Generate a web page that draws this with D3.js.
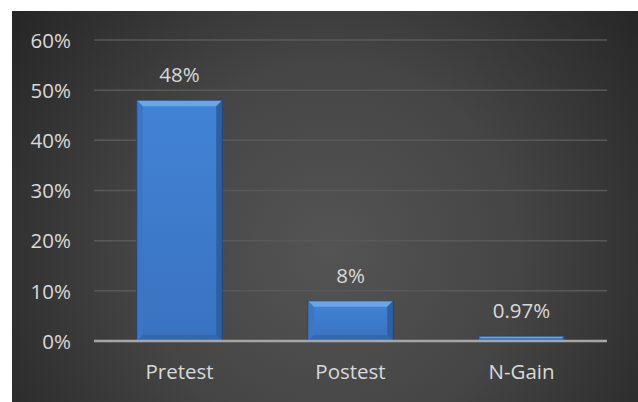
<!DOCTYPE html>
<html><head><meta charset="utf-8">
<script src="https://cdn.jsdelivr.net/npm/d3@7"></script>
<style>html,body{margin:0;padding:0;background:#fff;}svg{display:block;}</style>
</head><body>
<script>
const categories = ["Pretest", "Postest", "N-Gain"];
const values = [0.48, 0.08, 0.0097];
const valueLabels = ["48%", "8%", "0.97%"];
const yTicks = [0, 0.1, 0.2, 0.3, 0.4, 0.5, 0.6];

const W = 638, H = 402;
const svg = d3.select("body").append("svg").attr("width", W).attr("height", H);
const defs = svg.append("defs");

const bg = defs.append("radialGradient").attr("id", "bg")
  .attr("gradientUnits", "userSpaceOnUse").attr("cx", 330).attr("cy", 250).attr("r", 420);
bg.append("stop").attr("offset", "0").attr("stop-color", "#545454");
bg.append("stop").attr("offset", "0.45").attr("stop-color", "#454545");
bg.append("stop").attr("offset", "1").attr("stop-color", "#222222");

const barG = defs.append("linearGradient").attr("id", "barg").attr("x1", 0).attr("y1", 0).attr("x2", 0).attr("y2", 1);
barG.append("stop").attr("offset", "0").attr("stop-color", "#4283d6");
barG.append("stop").attr("offset", "1").attr("stop-color", "#3a72c0");

svg.append("rect").attr("x", 12).attr("y", 11).attr("width", W - 12).attr("height", H - 11).attr("fill", "url(#bg)");

const m = {left: 94, right: 607, top: 40, bottom: 341};
const y = d3.scaleLinear().domain([0, 0.6]).range([m.bottom, m.top]);
const x = d3.scaleBand().domain(categories).range([m.left, m.right]).paddingInner(0.5).paddingOuter(0.25);

const font = "'Open Sans', 'DejaVu Sans', sans-serif";
const txt = "#d9d9d9";
const fs = "20.5px";

// grid
const yAxis = d3.axisLeft(y).tickValues(yTicks).tickFormat(d3.format(".0%")).tickSize(0).tickPadding(23);
const ga = svg.append("g").attr("transform", `translate(${m.left},0)`).call(yAxis);
ga.select(".domain").remove();
ga.selectAll("text").attr("fill", txt).style("font-family", font).style("font-size", fs).attr("dy", "0.35em");
svg.append("g").selectAll("line").data(yTicks.filter(d => d > 0)).join("line")
  .attr("x1", m.left).attr("x2", m.right).attr("y1", d => y(d)).attr("y2", d => y(d))
  .attr("stroke", "#595959").attr("stroke-width", 1.5);

// bars
const bars = svg.append("g").selectAll("g").data(categories).join("g");
bars.each(function(c, i) {
  const g = d3.select(this);
  const x0 = x(c), w = x.bandwidth(), y0 = y(values[i]), y1 = y(0), h = y1 - y0;
  const b = Math.min(6, h / 2);
  g.append("rect").attr("x", x0).attr("y", y0).attr("width", w).attr("height", h).attr("fill", "url(#barg)");
  g.append("polygon").attr("points", [[x0, y0], [x0 + w, y0], [x0 + w - b, y0 + b], [x0 + b, y0 + b]].join(" "))
    .attr("fill", "#6aa6ea");
  g.append("polygon").attr("points", [[x0, y0], [x0 + b, y0 + b], [x0 + b, y1 - b], [x0, y1]].join(" "))
    .attr("fill", "#3d76c4");
  g.append("polygon").attr("points", [[x0 + w, y0], [x0 + w - b, y0 + b], [x0 + w - b, y1 - b], [x0 + w, y1]].join(" "))
    .attr("fill", "#2f5f9f");
  g.append("polygon").attr("points", [[x0, y1], [x0 + b, y1 - b], [x0 + w - b, y1 - b], [x0 + w, y1]].join(" "))
    .attr("fill", "#3468ad");
  g.append("rect").attr("x", x0).attr("y", y0).attr("width", w).attr("height", h)
    .attr("fill", "none").attr("stroke", "#1f3f6e").attr("stroke-width", 0.8);
  g.append("text").attr("x", x0 + w / 2).attr("y", y0 - 18).attr("text-anchor", "middle")
    .attr("fill", txt).style("font-family", font).style("font-size", fs).text(valueLabels[i]);
});

// baseline
svg.append("line").attr("x1", m.left).attr("x2", m.right).attr("y1", y(0)).attr("y2", y(0))
  .attr("stroke", "#a6a6a6").attr("stroke-width", 2.5);

// x axis labels
const xAxis = d3.axisBottom(x).tickSize(0).tickPadding(23);
const gx = svg.append("g").attr("transform", `translate(0,${y(0)})`).call(xAxis);
gx.select(".domain").remove();
gx.selectAll("text").attr("fill", txt).style("font-family", font).style("font-size", fs);
</script>
</body></html>
